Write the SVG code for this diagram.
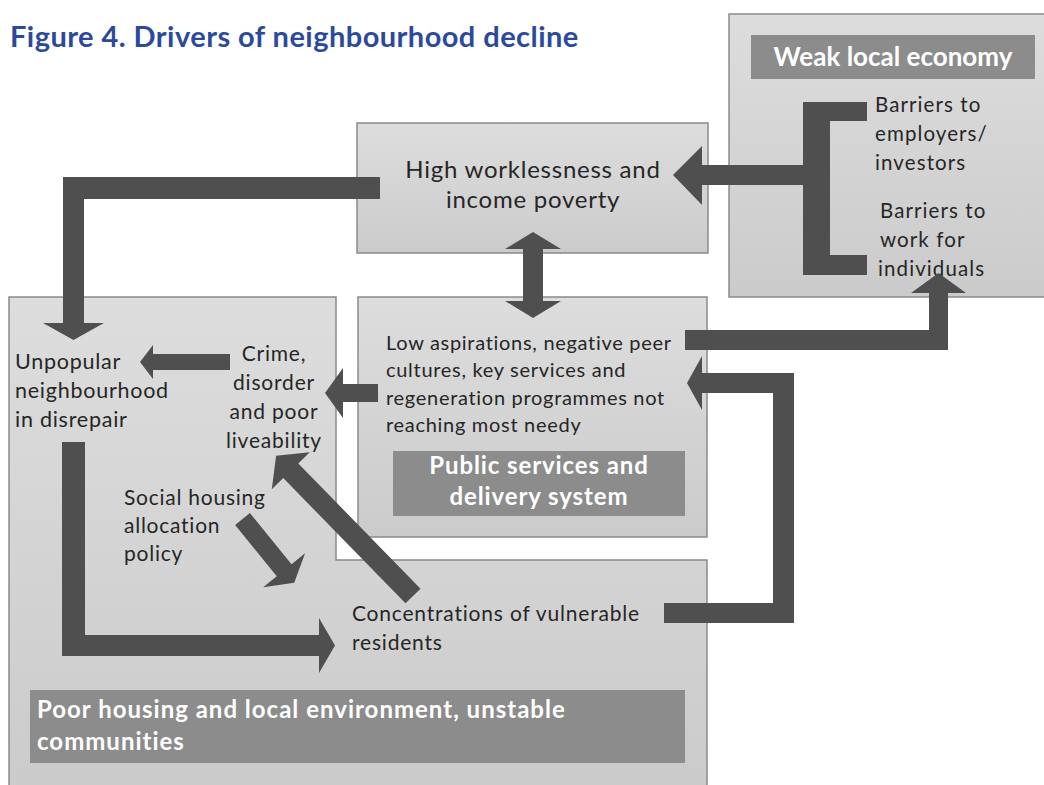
<svg xmlns="http://www.w3.org/2000/svg" width="1044" height="785" viewBox="0 0 1044 785">
<defs>
<linearGradient id="g" x1="0" y1="0" x2="0" y2="1">
<stop offset="0" stop-color="#dddddd"/>
<stop offset="1" stop-color="#cbcbcb"/>
</linearGradient>
<style>
.box{fill:url(#g);stroke:#8a8a8a;stroke-width:1.5}
.bar{fill:#8c8c8c}
.arr{fill:#4f4f4f}
.t{font-family:Lato,"Open Sans","Liberation Sans",sans-serif;fill:#262626}
.w{font-family:Lato,"Open Sans","Liberation Sans",sans-serif;fill:#ffffff;font-weight:bold}
</style>
</defs>
<rect width="1044" height="785" fill="#ffffff"/>
<text x="10" y="47" font-family="Lato,'Open Sans','Liberation Sans',sans-serif" font-weight="bold" font-size="29" letter-spacing="0.45" fill="#2c4a9c">Figure 4. Drivers of neighbourhood decline</text>

<g id="weak-local-economy">
<rect class="box" x="729" y="14" width="330" height="283"/>
<rect class="bar" x="751" y="35" width="284" height="44"/>
<text class="w" x="893" y="66" font-size="26" text-anchor="middle">Weak local economy</text>
</g>

<g id="high-worklessness">
<rect class="box" x="357" y="123" width="351" height="130"/>
<text class="t" x="533" y="178" font-size="24" letter-spacing="0.75" text-anchor="middle">High worklessness and</text>
<text class="t" x="533" y="208" font-size="24" letter-spacing="0.75" text-anchor="middle">income poverty</text>
</g>

<g id="poor-housing">
<path class="box" d="M9,297 L336,297 L336,560 L707,560 L707,792 L9,792 Z"/>
<rect class="bar" x="30" y="690" width="655" height="73"/>
<text class="w" x="37" y="718" font-size="24" letter-spacing="1">Poor housing and local environment, unstable</text>
<text class="w" x="37" y="750" font-size="24" letter-spacing="1">communities</text>
</g>

<g id="public-services">
<rect class="box" x="358" y="297" width="349" height="240"/>
<rect class="bar" x="393" y="451" width="292" height="65"/>
<text class="w" x="539" y="474" font-size="24" letter-spacing="0.9" text-anchor="middle">Public services and</text>
<text class="w" x="539" y="505" font-size="24" letter-spacing="0.9" text-anchor="middle">delivery system</text>
</g>

<g id="low-aspirations">
<text class="t" x="386" y="350" font-size="20" letter-spacing="0.7">Low aspirations, negative peer</text>
<text class="t" x="386" y="377" font-size="20" letter-spacing="0.7">cultures, key services and</text>
<text class="t" x="386" y="405" font-size="20" letter-spacing="0.7">regeneration programmes not</text>
<text class="t" x="386" y="432" font-size="20" letter-spacing="0.7">reaching most needy</text>
</g>

<g id="barriers-employers">
<text class="t" x="875" y="112" font-size="20.5" letter-spacing="1.1">Barriers to</text>
<text class="t" x="875" y="141" font-size="20.5" letter-spacing="1.1">employers/</text>
<text class="t" x="875" y="170" font-size="20.5" letter-spacing="1.1">investors</text>
</g>

<g id="barriers-work">
<text class="t" x="880" y="218" font-size="20.5" letter-spacing="1.1">Barriers to</text>
<text class="t" x="880" y="247" font-size="20.5" letter-spacing="1.1">work for</text>
<text class="t" x="878" y="276" font-size="20.5" letter-spacing="1.1">individuals</text>
</g>

<g id="unpopular-neighbourhood">
<text class="t" x="15" y="369" font-size="21.5" letter-spacing="0.75">Unpopular</text>
<text class="t" x="15" y="398" font-size="21.5" letter-spacing="0.75">neighbourhood</text>
<text class="t" x="15" y="427" font-size="21.5" letter-spacing="0.75">in disrepair</text>
</g>

<g id="crime-disorder">
<text class="t" x="274" y="361" font-size="21" letter-spacing="0.8" text-anchor="middle">Crime,</text>
<text class="t" x="274" y="390" font-size="21" letter-spacing="0.8" text-anchor="middle">disorder</text>
<text class="t" x="274" y="419" font-size="21" letter-spacing="0.8" text-anchor="middle">and poor</text>
<text class="t" x="274" y="448" font-size="21" letter-spacing="0.8" text-anchor="middle">liveability</text>
</g>

<g id="social-housing">
<text class="t" x="124" y="505" font-size="21" letter-spacing="0.75">Social housing</text>
<text class="t" x="124" y="533" font-size="21" letter-spacing="0.75">allocation</text>
<text class="t" x="124" y="561" font-size="21" letter-spacing="0.75">policy</text>
</g>

<g id="concentrations">
<text class="t" x="352" y="621" font-size="21" letter-spacing="0.8">Concentrations of vulnerable</text>
<text class="t" x="352" y="650" font-size="21" letter-spacing="0.8">residents</text>
</g>

<g id="connectors">
<path class="arr" d="M803,102 L867,102 L867,121 L830,121 L830,255 L867,255 L867,275 L803,275 L803,185 L702,185 L702,205 L673,175 L702,146 L702,165 L803,165 Z"/>
<path class="arr" d="M380,177 L63,177 L63,323 L43,323 L73.5,340 L104,323 L84,323 L84,199 L380,199 Z"/>
<path class="arr" d="M533,232 L561,249 L543,249 L543,301 L561,301 L533,318 L505,301 L523,301 L523,249 L505,249 Z"/>
<path class="arr" d="M685,330 L929,330 L929,293 L911,293 L938.5,273 L966,293 L948,293 L948,350 L685,350 Z"/>
<path class="arr" d="M664,603 L773,603 L773,393 L702,393 L702,410 L687,383 L702,356 L702,373 L794,373 L794,623 L664,623 Z"/>
<path class="arr" d="M378,384 L343,384 L343,368 L325,393 L343,418 L343,402 L378,402 Z"/>
<path class="arr" d="M230,354 L153,354 L153,345 L140,362 L153,379 L153,370 L230,370 Z"/>
<path class="arr" d="M62,442 L85,442 L85,635 L319,635 L319,618 L335,645.5 L319,673 L319,656 L62,656 Z"/>
<path class="arr" transform="translate(242.5,519) rotate(50.9)" d="M0,-9.5 L66,-9.5 L66,-27 L82,0 L66,27 L66,9.5 L0,9.5 Z"/>
<path class="arr" transform="translate(413,596) rotate(-134.3)" d="M0,-10.5 L175,-10.5 L175,-26.5 L196,0 L175,26.5 L175,10.5 L0,10.5 Z"/>
</g>
</svg>
